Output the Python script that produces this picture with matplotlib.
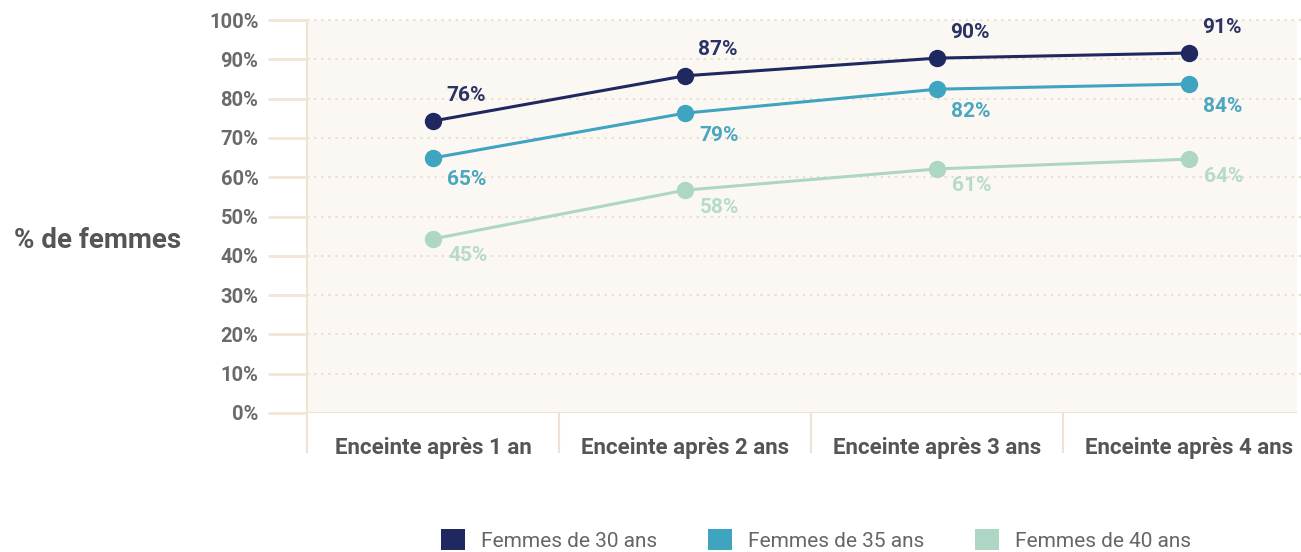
import matplotlib
matplotlib.use("Agg")
import matplotlib.pyplot as plt
from matplotlib.patches import Patch

plt.rcParams['font.family'] = ['Roboto', 'DejaVu Sans']

categories = ["Enceinte après 1 an", "Enceinte après 2 ans", "Enceinte après 3 ans", "Enceinte après 4 ans"]
series_names = ["Femmes de 30 ans", "Femmes de 35 ans", "Femmes de 40 ans"]
values_30 = [74.3, 85.8, 90.3, 91.6]
values_35 = [64.9, 76.3, 82.4, 83.7]
values_40 = [44.3, 56.7, 62.1, 64.6]
labels_30 = ["76%", "87%", "90%", "91%"]
labels_35 = ["65%", "79%", "82%", "84%"]
labels_40 = ["45%", "58%", "61%", "64%"]
yticks = [0, 10, 20, 30, 40, 50, 60, 70, 80, 90, 100]
ytick_labels = [f"{v}%" for v in yticks]

colors = ["#1f2860", "#3ea4c0", "#aed6c4"]
label_colors = ["#2a3266", "#4aa7bf", "#b6dacb"]

W, H = 1301, 552
fig = plt.figure(figsize=(W / 100, H / 100), dpi=100)
left, right, bottom, top = 307, 1297, 413, 20
ax = fig.add_axes([left / W, (H - bottom) / H, (right - left) / W, (bottom - top) / H])
ax.set_facecolor("#fbf8f3")

span = (right - left) / 252.0
ax.set_xlim(-0.5, span - 0.5)
ax.set_ylim(0, 100)

for s in ax.spines.values():
    s.set_visible(False)

# gridlines
for v in yticks[1:]:
    ax.plot([0, 1.004], [v, v], transform=ax.get_yaxis_transform(), color="#e8dfcf",
            lw=1.5, ls=(0, (1.1, 2.3)), clip_on=False, zorder=1)
ax.axhline(0, color="#eee3d2", lw=1.5, zorder=1)

ax.set_yticks(yticks)
ax.set_yticklabels(ytick_labels)
ax.tick_params(axis="y", length=28, width=2, color="#f2e6d3", pad=7,
               labelsize=14.5, labelcolor="#6a6a6a")
for t in ax.get_yticklabels():
    t.set_fontweight("bold")

xs = list(range(len(categories)))
ax.set_xticks(xs)
ax.set_xticklabels(categories, fontsize=16, fontweight="bold", color="#555555")
ax.tick_params(axis="x", length=0, pad=17)

# vertical separators
bt = ax.get_xaxis_transform()
for i in range(len(categories)):
    xb = i - 0.5
    y0 = 1.0 if i == 0 else 0.0
    ax.plot([xb, xb], [-0.1, y0], transform=bt, color="#efe4d3", lw=1.5, clip_on=False, zorder=1)

series = [values_30, values_35, values_40]
labels = [labels_30, labels_35, labels_40]
offsets = [(33, 26), (34, -22), (35, -17)]
for vals, labs, c, lc, off in zip(series, labels, colors, label_colors, offsets):
    ax.plot(xs, vals, color=c, lw=2.2, marker="o", markersize=11.5, zorder=3, clip_on=False)
    for x, v, lab in zip(xs, vals, labs):
        ax.annotate(lab, (x, v), xytext=off, textcoords="offset pixels",
                    ha="center", va="center", fontsize=15, fontweight="bold",
                    color=lc, zorder=4, annotation_clip=False)

fig.text(98 / W, (H - 240) / H, "% de femmes", ha="center", va="center",
         fontsize=20, fontweight="bold", color="#555555")

handles = [Patch(facecolor=c, edgecolor="none") for c in colors]
fig.legend(handles, series_names, loc="center", bbox_to_anchor=(816 / W, (H - 540) / H),
           ncol=3, frameon=False, fontsize=15, labelcolor="#666666",
           handlelength=1.15, handleheight=1.15, handletextpad=0.77, columnspacing=2.45)

fig.savefig("out.png", dpi=100)
